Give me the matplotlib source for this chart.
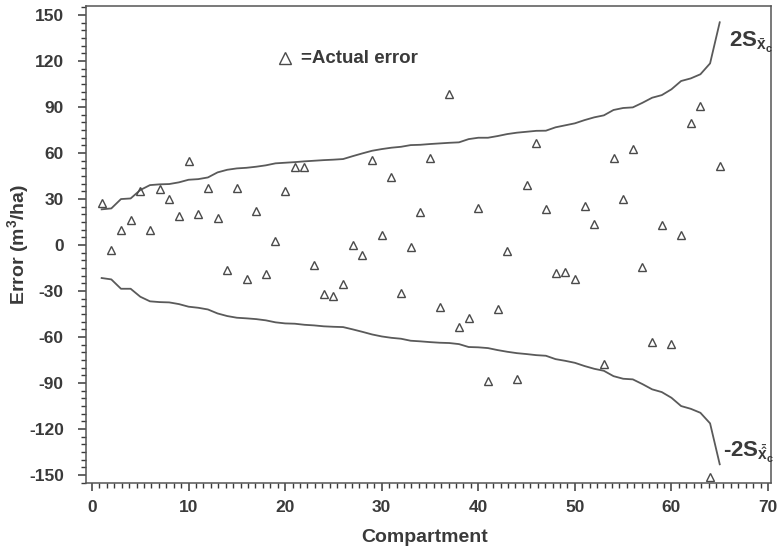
import matplotlib
matplotlib.use("Agg")
import matplotlib.pyplot as plt
from matplotlib.ticker import MultipleLocator

plt.rcParams['font.family'] = ['Liberation Sans', 'DejaVu Sans']
plt.rcParams['axes.unicode_minus'] = False
plt.rcParams['mathtext.fontset'] = 'custom'
plt.rcParams['mathtext.rm'] = 'Liberation Sans'
plt.rcParams['mathtext.it'] = 'Liberation Sans'
plt.rcParams['mathtext.bf'] = 'Liberation Sans:bold'

# Data
compartment = list(range(1, 66))
actual_error = [27.6, -3, 9.8, 16.3, 35.2, 9.8, 36.7, 29.8, 18.9, 54.6,
                20, 37, 17.6, -16.3, 37, -22.4, 22.4, -19.1, 2.8, 35.2,
                50.9, 50.9, -12.8, -31.7, -33.3, -25.7, 0, -6.7, 55.4, 6.5,
                44.6, -31.1, -1.5, 21.7, 57, -40.4, 98.3, -53.5, -47.8, 23.9,
                -88.7, -41.5, -4.1, -87.4, 39.1, 66.5, 23.3, -18.5, -17.4, -22.4,
                25.7, 13.5, -77.6, 56.8, 30, 62.4, -14.4, -63, 12.8, -64.6,
                6.7, 79.8, 90.7, -151, 51.7]
upper_limit = [23.3, 23.9, 30, 30.4, 35.9, 39.1, 39.6, 39.8, 40.9, 42.6,
               43, 44.1, 47.4, 49.1, 50, 50.4, 51.1, 52, 53.3, 53.7,
               54.1, 54.6, 55, 55.4, 55.7, 56.1, 58, 59.8, 61.5, 62.6,
               63.5, 64.1, 65.2, 65.4, 65.9, 66.3, 66.7, 67, 69.1, 70,
               70, 71.1, 72.4, 73.3, 73.9, 74.5, 74.6, 76.8, 78.1, 79.4,
               81.5, 83.3, 84.6, 88.1, 89.4, 89.8, 92.8, 96.1, 97.8, 101.6,
               107, 108.7, 111.4, 118.5, 145.3]
lower_limit = [-21.5, -22.4, -28.5, -28.5, -33.7, -36.7, -37.2, -37.4, -38.5, -40.2,
               -40.9, -42, -44.6, -46.3, -47.4, -47.8, -48.3, -49.1, -50.4, -51.1,
               -51.3, -52, -52.4, -53, -53.3, -53.5, -55, -56.6, -58.3, -59.6,
               -60.5, -61.1, -62.4, -62.8, -63.3, -63.7, -63.9, -64.6, -66.5, -66.7,
               -67.2, -68.5, -69.6, -70.5, -71.1, -71.8, -72.2, -74.4, -75.5, -76.8,
               -78.9, -80.7, -82, -85.5, -87.2, -87.6, -90.7, -94.1, -95.9, -99.6,
               -105, -106.8, -109.4, -116.3, -143]
x_ticks = [0, 10, 20, 30, 40, 50, 60, 70]
y_ticks = [-150, -120, -90, -60, -30, 0, 30, 60, 90, 120, 150]

txt = '#3a3a3a'
gray = '#5a5a5a'

fig = plt.figure(figsize=(7.77, 5.49), dpi=100)
ax = fig.add_axes([0.1107, 0.1202, 0.8816, 0.8688])

ax.plot(compartment, upper_limit, color=gray, lw=1.3)
ax.plot(compartment, lower_limit, color=gray, lw=1.3)
ax.plot(compartment, actual_error, linestyle='none', marker='^', markersize=5.5,
        markerfacecolor='none', markeredgecolor='#4a4a4a', markeredgewidth=1.0,
        clip_on=False)

ax.set_xlim(-0.62, 70.31)
ax.set_ylim(-155.2, 155.9)
ax.set_xticks(x_ticks)
ax.set_yticks(y_ticks)
ax.xaxis.set_minor_locator(MultipleLocator(10 / 13))
ax.yaxis.set_minor_locator(MultipleLocator(5))
ax.tick_params(which='major', direction='out', length=6, width=1.1, colors=txt,
               labelsize=12.5)
ax.tick_params(axis='y', which='major', pad=10)
ax.tick_params(axis='x', which='major', pad=6)
ax.tick_params(which='minor', direction='out', length=3.5, width=1.0, colors=txt)
for lab in ax.get_xticklabels() + ax.get_yticklabels():
    lab.set_fontweight('bold')
for s in ax.spines.values():
    s.set_color('#555555')
    s.set_linewidth(1.1)

ax.set_xlabel('Compartment', fontsize=14, fontweight='bold', color=txt)
ax.xaxis.set_label_coords(0.495, -0.097)
ax.set_ylabel(r'Error (m$^\mathbf{3}$/ha)', fontsize=14, fontweight='bold', color=txt)
ax.yaxis.set_label_coords(-0.080, 0.5)

# legend-like annotation
ax.plot([20.0], [122.0], linestyle='none', marker='^', markersize=8,
        markerfacecolor='none', markeredgecolor='#4a4a4a', markeredgewidth=1.0)
ax.text(21.6, 121.5, '=Actual error', fontsize=13.5, fontweight='bold', color=txt,
        va='center', ha='left')

ax.text(66.0, 132, r'$\mathbf{2S}_{\bar{\mathbf{x}}_\mathbf{c}}$', fontsize=16,
        color=txt, va='center', ha='left')
ax.text(65.3, -135, r'-$\mathbf{2S}_{\bar{\hat{\mathbf{x}}}_\mathbf{c}}$', fontsize=16,
        fontweight='bold', color=txt, va='center', ha='left')

fig.savefig('out.png', dpi=100)
